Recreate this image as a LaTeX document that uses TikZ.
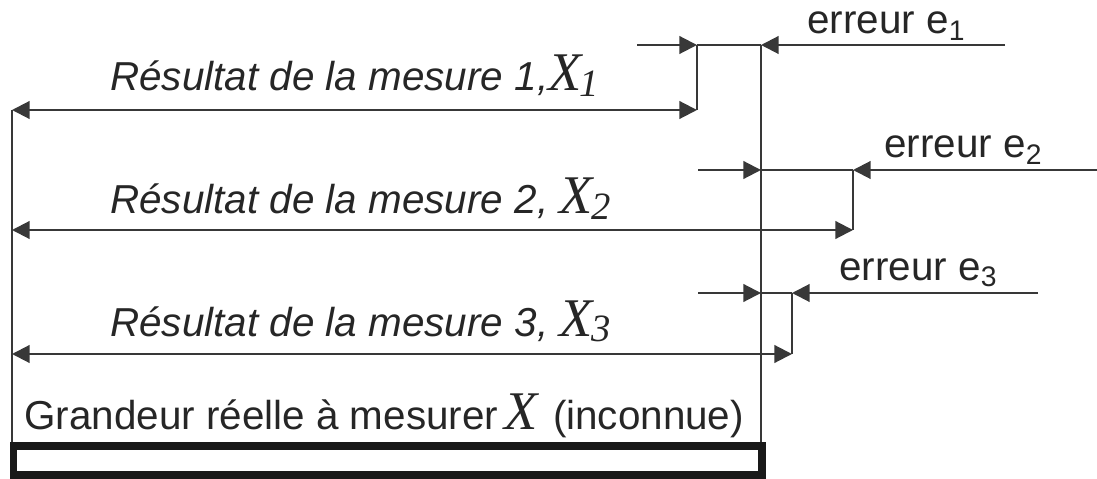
\documentclass[tikz,border=0pt]{standalone}
\usepackage{fontspec}
\setmainfont{Liberation Sans}
\newfontfamily\serifx{Liberation Serif}
\usetikzlibrary{arrows.meta}
\definecolor{trait}{gray}{0.22}
\tikzset{
  fil/.style={draw=trait, line width=1.2pt},
  lbl/.style={anchor=base west, inner sep=0pt, text=black!85, font=\fontsize{23}{28}\selectfont},
  >={Triangle[length=10pt, width=10pt]},
}
\newcommand{\grandx}[1]{{\serifx\itshape\fontsize{31}{36}\selectfont X\kern-1pt\raisebox{-3pt}{\fontsize{22}{26}\selectfont #1}}}
\begin{document}
\begin{tikzpicture}[x=0.02cm, y=-0.02cm]
  \useasboundingbox (0,0) rectangle (1097,479);
  % les trois mesures
  \foreach \i / \yh / \yb / \xe / \xs / \xa / \xb / \xf in {1/45/110/697/637/697/761/1005, 2/170/230/853/698/761/853/1097, 3/293/354/792/698/761/792/1038} {
    \coordinate (g\i) at (\xs, \yh);
    \coordinate (a\i) at (\xa, \yh);
    \coordinate (b\i) at (\xb, \yh);
    \coordinate (f\i) at (\xf, \yh);
    \coordinate (o\i) at (12, \yb);
    \coordinate (m\i) at (\xe, \yb);
    \coordinate (h\i) at (\xe, \yh);
    \draw[fil, ->] (g\i) -- (a\i);
    \draw[fil] (a\i) -- (b\i);
    \draw[fil, ->] (f\i) -- (b\i);
    \draw[fil, <->] (o\i) -- (m\i);
    \draw[fil] (m\i) -- (h\i);
  }
  % valeur vraie
  \coordinate (bg) at (12, 446);
  \coordinate (bd) at (761, 446);
  \draw[fil] (o1) -- (bg);
  \draw[fil] (b1) -- (bd);
  \coordinate (c1) at (13.5, 445.5);
  \coordinate (c2) at (761.5, 475);
  \draw[draw=black!90, line width=0.16cm] (c1) rectangle (c2);
  % textes
  \node[lbl] (r1) at (110, 91) {\itshape Résultat de la mesure 1,\grandx{1}};
  \node[lbl] (r2) at (110, 214) {\itshape Résultat de la mesure 2, \grandx{2}};
  \node[lbl] (r3) at (110, 336) {\itshape Résultat de la mesure 3, \grandx{3}};
  \node[lbl] (e1) at (807, 34) {erreur e\textsubscript{1}};
  \node[lbl] (e2) at (884, 158) {erreur e\textsubscript{2}};
  \node[lbl] (e3) at (839, 280) {erreur e\textsubscript{3}};
  \node[lbl] (gx) at (24, 429) {Grandeur réelle à mesurer\,{\serifx\itshape\fontsize{31}{36}\selectfont X}\kern2pt\ (inconnue)};
\end{tikzpicture}
\end{document}
